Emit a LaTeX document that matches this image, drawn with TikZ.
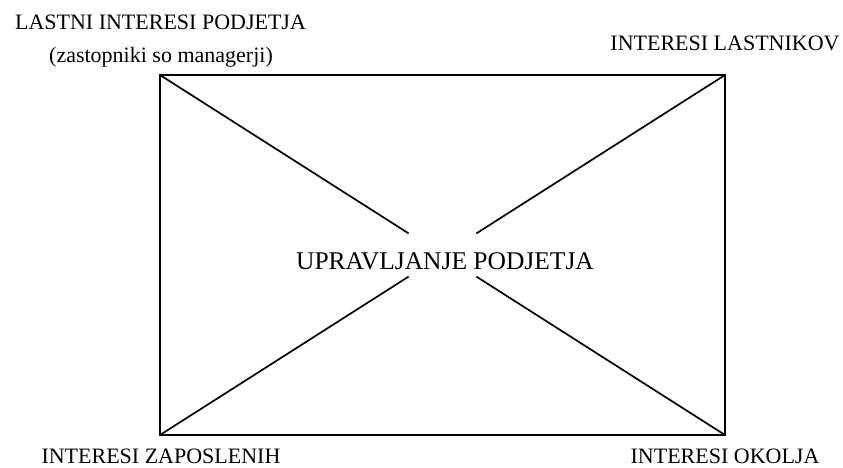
\documentclass[tikz,border=0pt]{standalone}
\usepackage{fontspec}
\setmainfont{Liberation Serif}
\usetikzlibrary{calc}
\tikzset{
	corner/.style={inner sep=0pt, font=\fontsize{22}{26}\selectfont},
	middle/.style={inner sep=0pt, font=\fontsize{25.5}{30}\selectfont},
	frame/.style={line width=1.7pt}
}

\begin{document}
\begin{tikzpicture}[x=1pt, y=-1pt]
			%%%%% START %%%%%
			\useasboundingbox (0, 0) rectangle (843, 468);
			
			\coordinate (tl) at (160, 75);
			\coordinate (tr) at (725, 75);
			\coordinate (bl) at (160, 435);
			\coordinate (br) at (725, 435);
			\coordinate (c) at (442.5, 255);
			
			\draw[frame] (tl) rectangle (br);
			
			\draw[frame] (tl) -- ($(tl)!0.88!(c)$);
			\draw[frame] (tr) -- ($(tr)!0.88!(c)$);
			\draw[frame] (bl) -- ($(bl)!0.88!(c)$);
			\draw[frame] (br) -- ($(br)!0.88!(c)$);
			
			\node[middle] (upravljanje) at (445, 261) {UPRAVLJANJE PODJETJA};
			
			\node[corner] (lastni) at (160.5, 22) {LASTNI INTERESI PODJETJA};
			\node[corner] (zastopniki) at (161, 57) {(zastopniki so managerji)};
			\node[corner] (lastniki) at (725, 43) {INTERESI LASTNIKOV};
			\node[corner] (zaposleni) at (161, 456) {INTERESI ZAPOSLENIH};
			\node[corner] (okolje) at (725, 456) {INTERESI OKOLJA};
			%%%%% END %%%%%
		\end{tikzpicture}
\end{document}
